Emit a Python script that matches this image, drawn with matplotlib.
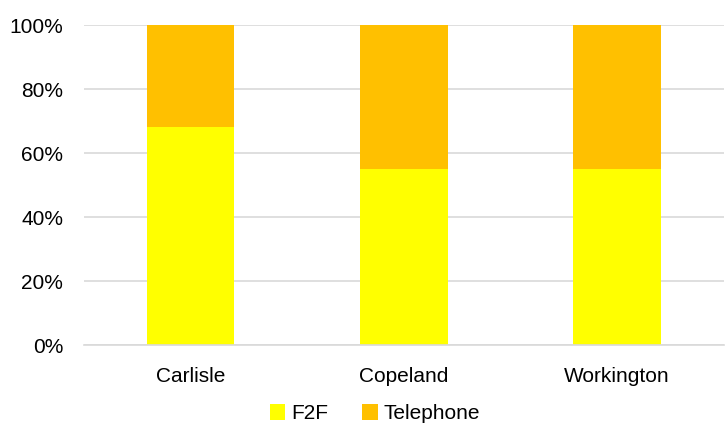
import matplotlib
matplotlib.use("Agg")
import matplotlib.pyplot as plt
import numpy as np
from matplotlib.ticker import PercentFormatter

sites = ["Carlisle", "Copeland", "Workington"]
f2f = np.array([68, 55, 55])
telephone = 100 - f2f

plt.rcParams['font.family'] = ['Liberation Sans', 'DejaVu Sans']

fig = plt.figure(figsize=(7.26, 4.24), dpi=100)
ax = fig.add_axes([0.1157, 0.1863, 0.8813, 0.7547])

x = np.arange(len(sites))
ax.bar(x, f2f, width=0.41, color='#FFFF00', label='F2F', zorder=2)
ax.bar(x, telephone, width=0.41, bottom=f2f, color='#FFC000', label='Telephone', zorder=2)

ax.set_xlim(-0.5, len(sites) - 0.5)
ax.set_ylim(0, 100)
ax.set_yticks(np.arange(0, 101, 20))
ax.yaxis.set_major_formatter(PercentFormatter(decimals=0))
ax.set_xticks(x)
ax.set_xticklabels(sites)
ax.grid(axis='y', color='#D9D9D9', lw=1.2, zorder=0)
for s in ['top', 'right', 'left']:
    ax.spines[s].set_visible(False)
ax.spines['bottom'].set_color('#D9D9D9')
ax.spines['bottom'].set_linewidth(1.2)
ax.tick_params(length=0, labelsize=15, colors='#000000')
ax.tick_params(axis='x', pad=16)
ax.tick_params(axis='y', pad=15)

ax.legend(loc='center', bbox_to_anchor=(0.455, -0.215), ncol=2, frameon=False,
          fontsize=15, handlelength=0.75, handleheight=0.75, handletextpad=0.3,
          columnspacing=1.6, borderaxespad=0)

fig.savefig("out.png", dpi=100)
